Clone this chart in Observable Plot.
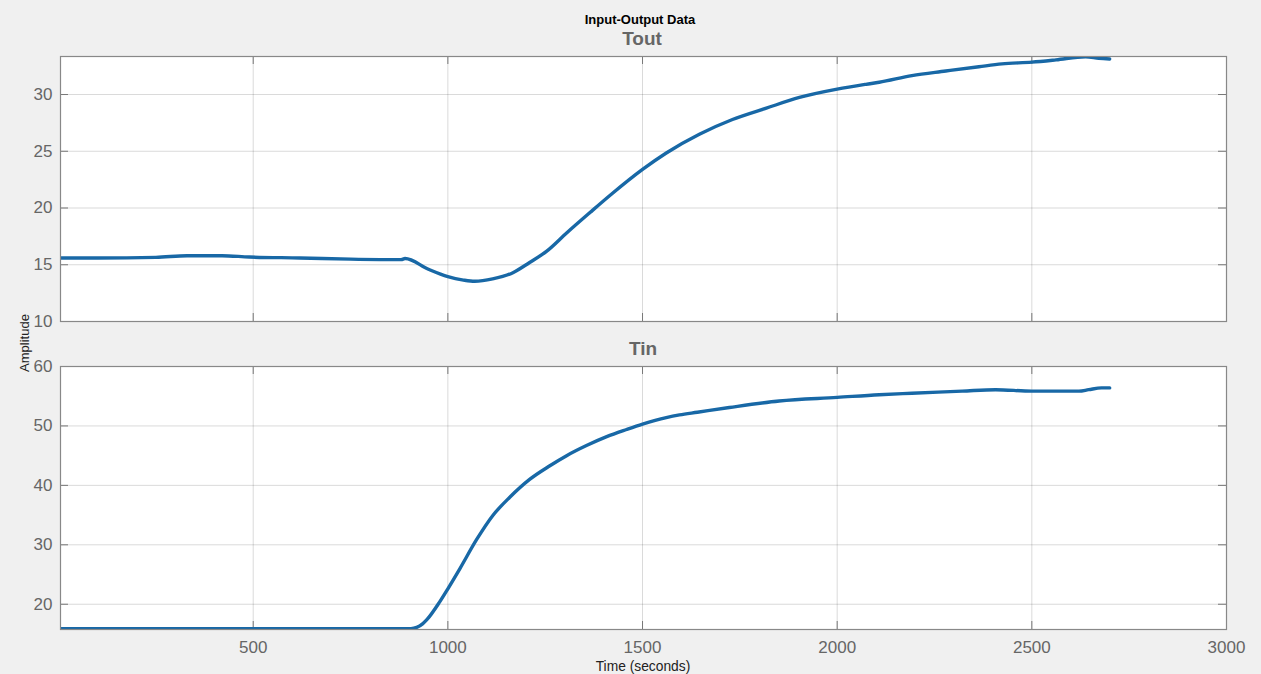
<!DOCTYPE html>
<html>
<head>
<meta charset="utf-8">
<script src="https://cdn.jsdelivr.net/npm/d3@7"></script>
<script src="https://cdn.jsdelivr.net/npm/@observablehq/plot@0.6"></script>
<style>
  html, body { margin: 0; padding: 0; background: #f0f0f0; }
  #wrap { position: relative; width: 1261px; height: 674px; background: #f0f0f0; overflow: hidden;
          font-family: "Liberation Sans", Arial, Helvetica, sans-serif; }
  .abs { position: absolute; }
  .lbl { position: absolute; transform: translate(-50%, -50%); white-space: nowrap; }
</style>
</head>
<body>
<div id="wrap">
  <div id="top" class="abs" style="left:0;top:0;"></div>
  <div id="bot" class="abs" style="left:0;top:340px;"></div>
  <div class="lbl" style="left:640px;top:19px;font-size:13px;font-weight:bold;color:#000;">Input-Output Data</div>
  <div class="lbl" style="left:642px;top:39px;font-size:19px;font-weight:bold;color:#666;">Tout</div>
  <div class="lbl" style="left:643px;top:349px;font-size:19px;font-weight:bold;color:#666;">Tin</div>
  <div class="lbl" style="left:24px;top:343px;font-size:13px;color:#222;transform:translate(-50%,-50%) rotate(-90deg);">Amplitude</div>
  <div class="lbl" style="left:643px;top:665px;font-size:15px;color:#222;transform:translate(-50%,-50%) scaleX(0.92);">Time (seconds)</div>
</div>
<script>
// ---- data ----
const toutTime = [5, 100, 250, 330, 420, 490, 620, 750, 880, 890, 950, 1000, 1040, 1069, 1115, 1167, 1210, 1254, 1305, 1365, 1423, 1500, 1561, 1646, 1731, 1818, 1903, 2000, 2074, 2108, 2192, 2279, 2364, 2423, 2500, 2562, 2638, 2672, 2700];
const toutValue = [15.6, 15.6, 15.65, 15.8, 15.8, 15.68, 15.6, 15.5, 15.45, 15.55, 14.6, 13.95, 13.65, 13.54, 13.75, 14.3, 15.2, 16.2, 17.8, 19.6, 21.3, 23.4, 24.85, 26.5, 27.8, 28.8, 29.74, 30.47, 30.9, 31.08, 31.67, 32.07, 32.45, 32.7, 32.85, 33.05, 33.33, 33.2, 33.13];

const tinTime = [5, 905, 920, 935, 946, 979, 1000, 1031, 1074, 1115, 1159, 1210, 1262, 1305, 1356, 1408, 1459, 1500, 1561, 1595, 1641, 1723, 1851, 2000, 2108, 2192, 2321, 2407, 2500, 2621, 2646, 2679, 2700];
const tinValue = [15.9, 15.9, 16.1, 16.7, 17.4, 20.4, 22.6, 26.0, 30.9, 34.9, 38.0, 41.0, 43.3, 45.0, 46.7, 48.2, 49.4, 50.3, 51.4, 51.85, 52.3, 53.1, 54.2, 54.8, 55.25, 55.5, 55.85, 56.1, 55.85, 55.85, 56.1, 56.4, 56.4];

const xTicks = [500, 1000, 1500, 2000, 2500, 3000];
const xDomain = [5, 3000];
const toutTicks = [10, 15, 20, 25, 30];
const toutDomain = [10, 33.35];
const tinTicks = [20, 30, 40, 50, 60];
const tinDomain = [15.75, 60];

const toutData = toutTime.map((t, i) => ({t, v: toutValue[i]}));
const tinData = tinTime.map((t, i) => ({t, v: tinValue[i]}));

const W = 1261, ML = 60, MR = 35;
const plotW = W - ML - MR;
const lineColor = "#1868a6";
const gridCol = "#000";
const fmt = d => String(d);

function panel(data, yDomain, yTicks, showXLabels, height, mTop, mBottom) {
  const plotH = height - mTop - mBottom;
  const marks = [
    Plot.frame({fill: "white", stroke: "none"}),
    Plot.gridX(xTicks, {stroke: gridCol, strokeOpacity: 0.15}),
    Plot.gridY(yTicks, {stroke: gridCol, strokeOpacity: 0.15}),
    // inner tick marks (MATLAB style, on all four sides)
    Plot.tickY(yTicks, {stroke: "#777", insetRight: plotW - 8}),
    Plot.tickY(yTicks, {stroke: "#777", insetLeft: plotW - 8}),
    Plot.tickX(xTicks, {stroke: "#777", insetTop: plotH - 8}),
    Plot.tickX(xTicks, {stroke: "#777", insetBottom: plotH - 8}),
    Plot.line(data, {x: "t", y: "v", stroke: lineColor, strokeWidth: 3.4, clip: true, curve: "monotone-x", strokeLinejoin: "round"}),
    Plot.frame({stroke: "#888", strokeWidth: 1.2}),
    Plot.axisY(yTicks, {tickSize: 0, tickPadding: 8, fontSize: 17, fill: "#666", tickFormat: fmt, label: null})
  ];
  if (showXLabels) {
    marks.push(Plot.axisX(xTicks, {tickSize: 0, tickPadding: 11, fontSize: 17, fill: "#666", tickFormat: fmt, label: null}));
  } else {
    marks.push(Plot.axisX(xTicks, {tickSize: 0, text: () => "", label: null}));
  }
  return Plot.plot({
    width: W,
    height,
    marginLeft: ML,
    marginRight: MR,
    marginTop: mTop,
    marginBottom: mBottom,
    style: {background: "transparent", fontFamily: "'Liberation Sans', Arial, Helvetica, sans-serif", overflow: "visible"},
    x: {domain: xDomain},
    y: {domain: yDomain},
    marks
  });
}

document.getElementById("top").appendChild(panel(toutData, toutDomain, toutTicks, false, 325, 56, 4));
document.getElementById("bot").appendChild(panel(tinData, tinDomain, tinTicks, true, 334, 26, 45));
</script>
</body>
</html>
